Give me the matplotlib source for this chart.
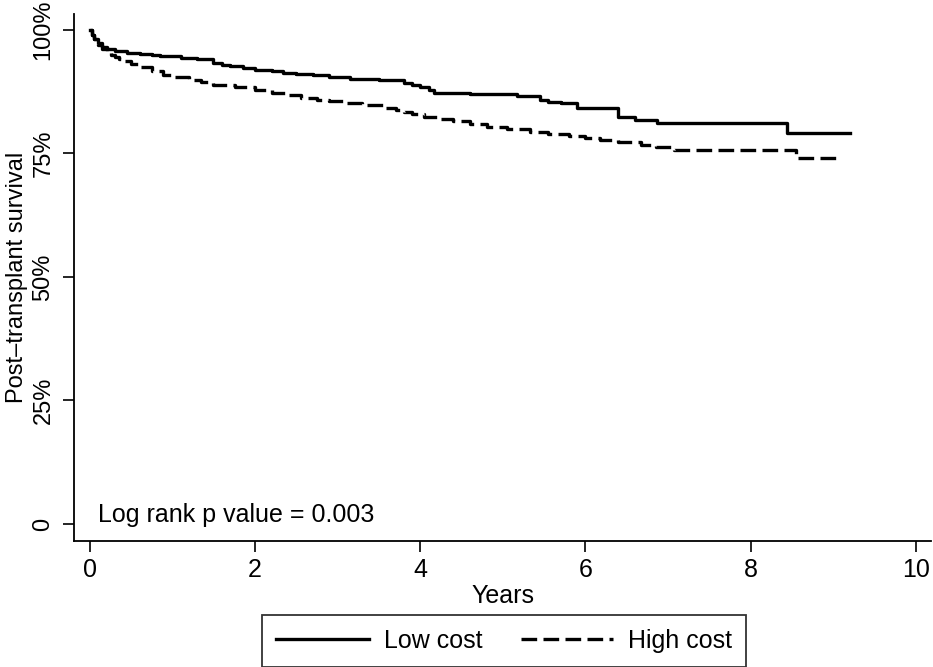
import matplotlib
matplotlib.use("Agg")
import matplotlib.pyplot as plt
from matplotlib.ticker import FixedLocator

plt.rcParams["font.family"] = ["Liberation Sans", "DejaVu Sans"]

# Kaplan-Meier step points (years, survival)
low_t = [0, 0.02, 0.05, 0.1, 0.15, 0.2, 0.3, 0.45, 0.6, 0.75, 0.85, 1.1, 1.3, 1.49,
         1.6, 1.7, 1.85, 2.0, 2.2, 2.34, 2.5, 2.7, 2.9, 3.15, 3.5, 3.8, 3.9, 4.0, 4.1,
         4.16, 4.6, 5.17, 5.45, 5.55, 5.7, 5.9, 6.39, 6.6, 6.87, 8.44, 9.2]
low_s = [1.0, 0.99, 0.982, 0.973, 0.966, 0.962, 0.958, 0.954, 0.951, 0.949, 0.947,
         0.943, 0.941, 0.933, 0.929, 0.926, 0.922, 0.919, 0.916, 0.913, 0.911, 0.908,
         0.905, 0.901, 0.898, 0.893, 0.889, 0.884, 0.878, 0.873, 0.870, 0.866, 0.857,
         0.854, 0.851, 0.842, 0.824, 0.818, 0.812, 0.791, 0.791]
high_t = [0, 0.02, 0.05, 0.1, 0.15, 0.2, 0.25, 0.3, 0.35, 0.4, 0.5, 0.6, 0.75, 0.88,
          1.0, 1.2, 1.35, 1.49, 1.75, 2.0, 2.2, 2.4, 2.55, 2.75, 2.9, 3.1, 3.3, 3.55,
          3.7, 3.8, 3.9, 4.04, 4.2, 4.4, 4.6, 4.81, 5.05, 5.33, 5.55, 5.8, 6.0, 6.18,
          6.4, 6.67, 6.85, 7.07, 8.55, 9.1]
high_s = [1.0, 0.99, 0.981, 0.97, 0.962, 0.955, 0.95, 0.946, 0.941, 0.936, 0.93,
          0.925, 0.917, 0.909, 0.905, 0.899, 0.894, 0.889, 0.884, 0.879, 0.873, 0.868,
          0.863, 0.858, 0.855, 0.851, 0.847, 0.842, 0.838, 0.834, 0.829, 0.824, 0.82,
          0.815, 0.81, 0.804, 0.799, 0.794, 0.79, 0.786, 0.781, 0.777, 0.772, 0.767,
          0.762, 0.757, 0.741, 0.741]

x_ticks = [0, 2, 4, 6, 8, 10]
y_ticks = [0, 0.25, 0.5, 0.75, 1.0]
y_ticklabels = ["0", "25%", "50%", "75%", "100%"]
p_text = "Log rank p value = 0.003"

fs = 18
fig = plt.figure(figsize=(9.33, 6.67), dpi=100)
ax = fig.add_axes([0.0793, 0.189, 0.919, 0.79])

dash = (0, (4.7, 1.9))
ax.plot(low_t, low_s, drawstyle="steps-post", color="black", lw=2.4, label="Low cost")
ax.plot(high_t, high_s, drawstyle="steps-post", color="black", lw=2.4, ls=dash,
        label="High cost")

ax.set_xlim(-0.194, 10.19)
ax.set_ylim(-0.0344, 1.032)
ax.xaxis.set_major_locator(FixedLocator(x_ticks))
ax.set_yticks(y_ticks)
ax.set_yticklabels(y_ticklabels, rotation=90, va="center")
ax.tick_params(axis="both", length=8, width=1.2, direction="out")
ax.tick_params(axis="x", labelsize=fs, pad=4)
ax.tick_params(axis="y", labelsize=17, pad=6)
for side in ("top", "right"):
    ax.spines[side].set_visible(False)
for side in ("left", "bottom"):
    ax.spines[side].set_linewidth(1.3)

ax.set_xlabel("Years", fontsize=fs, labelpad=2)
ax.set_ylabel("Post\u2013transplant survival", fontsize=17, labelpad=3)
ax.text(0.1, 0.018, p_text, fontsize=fs, va="center", ha="left")

leg = fig.legend(loc="center", bbox_to_anchor=(0.5405, 0.039), ncol=2, fontsize=fs,
                 frameon=True, fancybox=False, edgecolor="black", handlelength=3.7,
                 handletextpad=0.6, columnspacing=1.55, borderpad=0.55,
                 borderaxespad=0)
leg.get_frame().set_linewidth(1.3)

fig.savefig("out.png", dpi=100)
